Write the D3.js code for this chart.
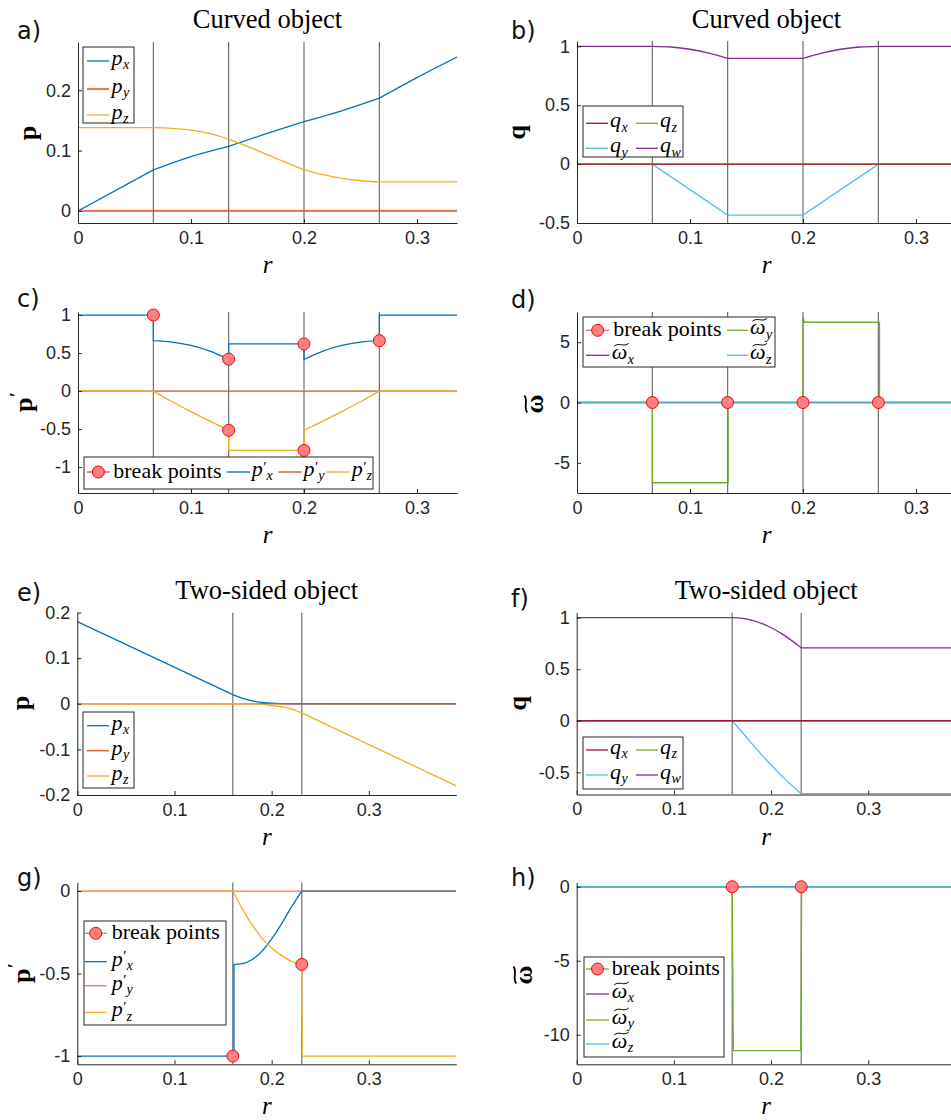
<!DOCTYPE html>
<html>
<head>
<meta charset="utf-8">
<script src="https://cdn.jsdelivr.net/npm/d3@7"></script>
<style>
body { margin: 0; background: #fff; }
svg { display: block; }
</style>
</head>
<body>
<script>
// ---- data ----
var xTicks = [0, 0.1, 0.2, 0.3];
var curvedRMax = 0.3354, twoSidedRMax = 0.39;
var curvedBreaks = [0.0667, 0.1333, 0.2, 0.2667];
var twoSidedBreaks = [0.16, 0.231];
var zeroCurvedR = [0, 0.3354], zeroTwoR = [0, 0.39], zeroV = [0, 0];

// a) curved object, position p
var rCurvedPx = [0, 0.0667, 0.1, 0.1333, 0.1667, 0.2, 0.2333, 0.2667, 0.3, 0.3354];
var curvedPx  = [0, 0.068, 0.090, 0.107, 0.128, 0.148, 0.166, 0.187, 0.221, 0.255];
var rCurvedPz = [0, 0.0667, 0.0833, 0.1, 0.1167, 0.1333, 0.15, 0.1667, 0.1833, 0.2, 0.2167, 0.2333, 0.25, 0.2667, 0.3354];
var curvedPz  = [0.138, 0.138, 0.137, 0.134, 0.128, 0.119, 0.107, 0.094, 0.081, 0.068, 0.060, 0.054, 0.050, 0.048, 0.048];

// b) curved object, quaternion q
var rCurvedQw = [0, 0.0667, 0.0833, 0.1, 0.1167, 0.1333, 0.2, 0.2167, 0.2333, 0.25, 0.2667, 0.3354];
var curvedQw  = [1, 1, 0.994, 0.975, 0.943, 0.898, 0.898, 0.943, 0.975, 0.994, 1, 1];
var rCurvedQy = [0, 0.0667, 0.1333, 0.2, 0.2667, 0.3354];
var curvedQy  = [0, 0, -0.433, -0.433, 0, 0];

// c) curved object, p'
var rCurvedDpx = [0, 0.0667, 0.0667, 0.0833, 0.1, 0.1167, 0.1333, 0.1333, 0.2, 0.2, 0.2167, 0.2333, 0.25, 0.2667, 0.2667, 0.3354];
var curvedDpx  = [1, 1, 0.663, 0.645, 0.600, 0.525, 0.420, 0.620, 0.620, 0.415, 0.525, 0.600, 0.645, 0.663, 1, 1];
var rCurvedDpz = [0, 0.0667, 0.0833, 0.1, 0.1167, 0.1333, 0.1333, 0.2, 0.2, 0.2167, 0.2333, 0.25, 0.2667, 0.3354];
var curvedDpz  = [0, 0, -0.14, -0.27, -0.395, -0.515, -0.78, -0.78, -0.515, -0.395, -0.27, -0.14, 0, 0];
var curvedDpBreakR = [0.0667, 0.1333, 0.2, 0.2667, 0.1333, 0.2];
var curvedDpBreakV = [1, 0.42, 0.62, 0.663, -0.515, -0.78];

// d) curved object, omega
var rCurvedWy = [0, 0.0667, 0.0667, 0.1338, 0.1338, 0.2, 0.2, 0.2012, 0.2677, 0.2677, 0.3354];
var curvedWy  = [0, 0, -6.65, -6.65, 0, 0, 7.1, 6.65, 6.65, 0, 0];
var curvedWBreakR = [0.0667, 0.1333, 0.2, 0.2667];
var curvedWBreakV = [0, 0, 0, 0];

// e) two-sided object, p
var rTwoP = [0, 0.16, 0.17, 0.18, 0.19, 0.2, 0.21, 0.22, 0.231, 0.39];
var twoPx = [0.18, 0.020, 0.012, 0.0065, 0.003, 0.0012, 0.0003, 0, 0, 0];
var twoPz = [0, 0, 0, -0.0003, -0.0012, -0.004, -0.0065, -0.011, -0.020, -0.18];

// f) two-sided object, q
var rTwoQ  = [0, 0.16, 0.1778, 0.1955, 0.2133, 0.231, 0.39];
var twoQw  = [1, 1, 0.981, 0.924, 0.831, 0.707, 0.707];
var twoQy  = [0, 0, -0.195, -0.383, -0.556, -0.707, -0.707];

// g) two-sided object, p'
var rTwoDpx = [0, 0.1612, 0.1612, 0.17, 0.18, 0.19, 0.2, 0.21, 0.22, 0.231, 0.39];
var twoDpx  = [-1, -1, -0.445, -0.44, -0.415, -0.365, -0.29, -0.2, -0.1, 0, 0];
var rTwoDpz = [0, 0.16, 0.17, 0.18, 0.19, 0.2, 0.21, 0.22, 0.231, 0.2315, 0.39];
var twoDpz  = [0, 0, -0.11, -0.205, -0.285, -0.345, -0.39, -0.425, -0.445, -1, -1];
var twoDpBreakR = [0.16, 0.231];
var twoDpBreakV = [-1, -0.445];

// h) two-sided object, omega
var rTwoWy = [0, 0.16, 0.1612, 0.2305, 0.2315, 0.39];
var twoWy  = [0, 0, -11.07, -11.07, 0, 0];
var twoWBreakR = [0.16, 0.231];
var twoWBreakV = [0, 0];

var ticksA = [0, 0.1, 0.2], ticksB = [-0.5, 0, 0.5, 1], ticksC = [-1, -0.5, 0, 0.5, 1], ticksD = [-5, 0, 5];
var ticksE = [-0.2, -0.1, 0, 0.1, 0.2], ticksF = [-0.5, 0, 0.5, 1], ticksG = [-1, -0.5, 0], ticksH = [-10, -5, 0];

// ---- styles ----
var serif = "'Liberation Serif', 'Times New Roman', serif";
var sans = "'Liberation Sans', Arial, sans-serif";
var labelFont = "'DejaVu Sans', sans-serif";
var blue = "#0072BD", orange = "#D95319", yellow = "#EDB120", purple = "#7E2F8E",
    green = "#77AC30", cyan = "#4DBEEE", darkRed = "#A2142F";

var svg = d3.select("body").append("svg").attr("width", 951).attr("height", 1120);

function isBreak(r, breaks) {
  return breaks.some(function(b) { return Math.abs(b - r) < 0.0016; });
}

// smooth pieces between break points, joined by straight segments (jumps)
function seriesPath(rs, vs, x, y, breaks) {
  var pts = rs.map(function(r, i) { return [r, vs[i]]; });
  var pieces = [[pts[0]]];
  for (var i = 1; i < pts.length; i++) {
    if (pts[i][0] === pts[i - 1][0]) { pieces.push([pts[i]]); continue; }
    pieces[pieces.length - 1].push(pts[i]);
    if (i < pts.length - 1 && pts[i + 1][0] !== pts[i][0] && isBreak(pts[i][0], breaks)) pieces.push([pts[i]]);
  }
  var line = d3.line().x(function(d) { return x(d[0]); }).y(function(d) { return y(d[1]); }).curve(d3.curveMonotoneX);
  return pieces.map(function(p, k) {
    var s = p.length > 1 ? line(p) : "M" + x(p[0][0]) + "," + y(p[0][1]);
    return k ? "L" + s.slice(1) : s;
  }).join("");
}

// base symbol with optional prime / subscript and tilde
function mathText(g, x, y, m, size, bold) {
  var t = g.append("text").attr("x", x).attr("y", y)
    .attr("font-family", serif).attr("font-size", size)
    .attr("font-style", bold ? "normal" : "italic")
    .attr("font-weight", bold ? "bold" : "normal");
  t.append("tspan").text(m.base);
  var w = t.node().getComputedTextLength();
  var subX = x + w + 0.5;
  if (m.prime) {
    t.append("tspan").attr("x", x + w + 0.5).attr("y", y - (bold ? 0.36 : 0.2) * size)
      .attr("font-size", (bold ? 0.72 : 0.68) * size).attr("font-style", "normal").text("′");
    subX = x + t.node().getComputedTextLength() + 0.5;
  }
  if (m.sub) {
    t.append("tspan").attr("x", subX).attr("y", y + 0.2 * size)
      .attr("font-size", 0.64 * size).attr("font-style", "italic").attr("font-weight", "normal").text(m.sub);
  }
  if (m.tilde) {
    var x0 = x + (bold ? 1 : 2.5), x1 = x + w + (bold ? -1 : 1.5), ty = y - 0.66 * size, dx = x1 - x0;
    g.append("path")
      .attr("d", "M" + x0 + "," + (ty + 1.4) + "C" + (x0 + dx * 0.35) + "," + (ty - 2.8) + " " +
        (x0 + dx * 0.65) + "," + (ty + 2.8) + " " + x1 + "," + (ty - 1.4))
      .attr("fill", "none").attr("stroke", "#000").attr("stroke-width", bold ? 1.8 : 1);
  }
}

function drawLegend(L) {
  var g = svg.append("g");
  g.append("rect").attr("x", L.x).attr("y", L.y).attr("width", L.w).attr("height", L.h)
    .attr("fill", "#fff").attr("stroke", "#262626").attr("stroke-width", 1);
  L.items.forEach(function(it) {
    var lx = L.x + it.dx, ly = L.y + it.dy, len = it.len || 22;
    g.append("line").attr("x1", lx).attr("x2", lx + len).attr("y1", ly).attr("y2", ly)
      .attr("stroke", it.color).attr("stroke-width", it.width || 1.3).attr("stroke-opacity", it.opacity || 1);
    if (it.marker) {
      g.append("circle").attr("cx", lx + len / 2).attr("cy", ly).attr("r", 6)
        .attr("fill", "#FF8080").attr("stroke", "#FF0000").attr("stroke-width", 1);
    }
    var tx = L.x + it.tx;
    if (it.text) {
      g.append("text").attr("x", tx).attr("y", ly + 6).attr("font-family", serif)
        .attr("font-size", 22).text(it.text);
    } else {
      mathText(g, tx, ly + 4, it.math, 22, false);
    }
  });
}

function drawPanel(p) {
  var g = svg.append("g");
  var x = d3.scaleLinear().domain([0, p.xMax]).range([p.left, p.left + 379]);
  var y = d3.scaleLinear().domain(p.yDomain).range([p.top + p.height, p.top]);

  svg.append("clipPath").attr("id", "clip-" + p.id).append("rect")
    .attr("x", p.left).attr("y", p.top).attr("width", 379).attr("height", p.height);
  var plot = g.append("g").attr("clip-path", "url(#clip-" + p.id + ")");

  plot.selectAll("line.brk").data(p.breaks).enter().append("line").attr("class", "brk")
    .attr("x1", function(d) { return x(d); }).attr("x2", function(d) { return x(d); })
    .attr("y1", p.top).attr("y2", p.top + p.height)
    .attr("stroke", "#707070").attr("stroke-width", 1.2);

  p.series.forEach(function(s) {
    plot.append("path").attr("d", seriesPath(s.r, s.v, x, y, p.breaks))
      .attr("fill", "none").attr("stroke", s.color)
      .attr("stroke-width", s.width || 1.3).attr("stroke-opacity", s.opacity || 1);
  });

  var ax = g.append("g").attr("transform", "translate(0," + (p.top + p.height) + ")")
    .call(d3.axisBottom(x).tickValues(xTicks).tickFormat(function(d) { return String(d); })
      .tickSizeInner(-4).tickSizeOuter(0).tickPadding(8));
  var ay = g.append("g").attr("transform", "translate(" + p.left + ",0)")
    .call(d3.axisLeft(y).tickValues(p.yTicks).tickFormat(function(d) { return String(d); })
      .tickSizeInner(-4).tickSizeOuter(0).tickPadding(7));
  [ax, ay].forEach(function(a) {
    a.attr("font-family", sans).attr("font-size", 18);
    a.select(".domain").attr("stroke", "#262626");
    a.selectAll(".tick line").attr("stroke", "#262626");
    a.selectAll("text").attr("fill", "#262626");
  });

  if (p.markers) {
    g.selectAll("circle.bp").data(p.markers.r).enter().append("circle").attr("class", "bp")
      .attr("cx", function(d) { return x(d); })
      .attr("cy", function(d, i) { return y(p.markers.v[i]); })
      .attr("r", 6).attr("fill", "#FF8080").attr("stroke", "#FF0000").attr("stroke-width", 1);
  }

  var cx = p.left + 379 / 2;
  if (p.title) {
    g.append("text").attr("x", cx).attr("y", p.titleY).attr("text-anchor", "middle")
      .attr("font-family", serif).attr("font-size", 26.5).text(p.title);
  }
  g.append("text").attr("x", p.tag[0]).attr("y", p.tag[1]).attr("font-family", labelFont)
    .attr("font-size", 24).attr("fill", "#111").text(p.id + ")");
  g.append("text").attr("x", cx).attr("y", p.top + p.height + 50).attr("text-anchor", "middle")
    .attr("font-family", serif).attr("font-style", "italic").attr("font-size", 25).text("r");

  // rotated y label
  var yl = g.append("g");
  var inner = yl.append("g");
  mathText(inner, 0, 0, p.ylab, 26, true);
  var bb = inner.node().getBBox();
  inner.attr("transform", "translate(" + (-bb.x - bb.width / 2) + ",0)");
  yl.attr("transform", "translate(" + p.ylabPos[0] + "," + p.ylabPos[1] + ") rotate(-90)");

  drawLegend(p.legend);
}

var mp = function(b, s) { return { base: b, sub: s }; };
var mpp = function(b, s) { return { base: b, sub: s, prime: true }; };
var mw = function(s) { return { base: "ω", sub: s, tilde: true }; };

var panels = [
  { id: "a", left: 78, top: 42, height: 181, xMax: curvedRMax, yDomain: [-0.02, 0.28], yTicks: ticksA,
    breaks: curvedBreaks, title: "Curved object", titleY: 28, tag: [17, 39],
    ylab: { base: "p" }, ylabPos: [36, 133],
    series: [
      { r: rCurvedPx, v: curvedPx, color: blue },
      { r: zeroCurvedR, v: zeroV, color: orange, width: 2.2, opacity: 0.75 },
      { r: rCurvedPz, v: curvedPz, color: yellow }
    ],
    legend: { x: 83, y: 47, w: 51, h: 76, items: [
      { dx: 4, dy: 14, tx: 28.5, color: blue, math: mp("p", "x") },
      { dx: 4, dy: 42, tx: 28.5, color: orange, width: 2.2, opacity: 0.75, math: mp("p", "y") },
      { dx: 4, dy: 68, tx: 28.5, color: yellow, math: mp("p", "z") }
    ] } },
  { id: "b", left: 577, top: 41, height: 182, xMax: curvedRMax, yDomain: [-0.5, 1.045], yTicks: ticksB,
    breaks: curvedBreaks, title: "Curved object", titleY: 28, tag: [511, 39],
    ylab: { base: "q" }, ylabPos: [525, 132],
    series: [
      { r: rCurvedQy, v: curvedQy, color: cyan },
      { r: zeroCurvedR, v: zeroV, color: green },
      { r: zeroCurvedR, v: zeroV, color: darkRed },
      { r: rCurvedQw, v: curvedQw, color: purple }
    ],
    legend: { x: 583, y: 106, w: 100, h: 51, items: [
      { dx: 3, dy: 17.3, tx: 27, color: darkRed, math: mp("q", "x") },
      { dx: 3, dy: 42.3, tx: 27, color: cyan, math: mp("q", "y") },
      { dx: 53, dy: 17.3, tx: 77, color: green, math: mp("q", "z") },
      { dx: 53, dy: 42.3, tx: 77, color: purple, math: mp("q", "w") }
    ] } },
  { id: "c", left: 78, top: 312, height: 181, xMax: curvedRMax, yDomain: [-1.34, 1.04], yTicks: ticksC,
    breaks: curvedBreaks, tag: [17, 307],
    ylab: { base: "p", prime: true }, ylabPos: [32, 402],
    series: [
      { r: rCurvedDpx, v: curvedDpx, color: blue },
      { r: zeroCurvedR, v: zeroV, color: orange },
      { r: rCurvedDpz, v: curvedDpz, color: yellow }
    ],
    markers: { r: curvedDpBreakR, v: curvedDpBreakV },
    legend: { x: 84, y: 457, w: 289, h: 32, items: [
      { dx: 3, dy: 15, len: 22.6, tx: 29.3, color: "#E0393E", marker: true, text: "break points" },
      { dx: 142.7, dy: 15, len: 23.3, tx: 167.7, color: blue, math: mpp("p", "x") },
      { dx: 194.3, dy: 15, len: 23.4, tx: 219.4, color: orange, math: mpp("p", "y") },
      { dx: 242.7, dy: 15, len: 23.3, tx: 267.7, color: yellow, math: mpp("p", "z") }
    ] } },
  { id: "d", left: 577, top: 312, height: 181, xMax: curvedRMax, yDomain: [-7.5, 7.5], yTicks: ticksD,
    breaks: curvedBreaks, tag: [511, 308],
    ylab: { base: "ω", tilde: true }, ylabPos: [543, 404],
    series: [
      { r: zeroCurvedR, v: zeroV, color: purple },
      { r: rCurvedWy, v: curvedWy, color: green },
      { r: zeroCurvedR, v: zeroV, color: cyan, opacity: 0.8 }
    ],
    markers: { r: curvedWBreakR, v: curvedWBreakV },
    legend: { x: 583, y: 317, w: 192, h: 50, items: [
      { dx: 3, dy: 13.3, len: 23.3, tx: 30.3, color: "#D46A80", marker: true, text: "break points" },
      { dx: 144, dy: 13.3, len: 21, tx: 167, color: green, math: mw("y") },
      { dx: 3, dy: 38.3, len: 23.3, tx: 28.7, color: purple, math: mw("x") },
      { dx: 144, dy: 38.3, len: 21, tx: 167, color: cyan, math: mw("z") }
    ] } },
  { id: "e", left: 77.3, top: 612.5, height: 182.5, xMax: twoSidedRMax, yDomain: [-0.2, 0.2], yTicks: ticksE,
    breaks: twoSidedBreaks, title: "Two-sided object", titleY: 598.5, tag: [17, 601],
    ylab: { base: "p" }, ylabPos: [29, 703],
    series: [
      { r: rTwoP, v: twoPx, color: blue },
      { r: zeroTwoR, v: zeroV, color: orange },
      { r: rTwoP, v: twoPz, color: yellow }
    ],
    legend: { x: 83, y: 712, w: 51, h: 76, items: [
      { dx: 4, dy: 13.7, tx: 28.5, color: blue, math: mp("p", "x") },
      { dx: 4, dy: 38.7, tx: 28.5, color: orange, math: mp("p", "y") },
      { dx: 4, dy: 64, tx: 28.5, color: yellow, math: mp("p", "z") }
    ] } },
  { id: "f", left: 576.7, top: 612.5, height: 182, xMax: twoSidedRMax, yDomain: [-0.715, 1.05], yTicks: ticksF,
    breaks: twoSidedBreaks, title: "Two-sided object", titleY: 598.5, tag: [511, 607],
    ylab: { base: "q" }, ylabPos: [526, 703],
    series: [
      { r: rTwoQ, v: twoQy, color: cyan },
      { r: zeroTwoR, v: zeroV, color: green },
      { r: zeroTwoR, v: zeroV, color: darkRed },
      { r: rTwoQ, v: twoQw, color: purple }
    ],
    legend: { x: 583, y: 737, w: 100, h: 52, items: [
      { dx: 3, dy: 13, tx: 27, color: darkRed, math: mp("q", "x") },
      { dx: 3, dy: 38, tx: 27, color: cyan, math: mp("q", "y") },
      { dx: 53, dy: 13, tx: 77, color: green, math: mp("q", "z") },
      { dx: 53, dy: 38, tx: 77, color: purple, math: mp("q", "w") }
    ] } },
  { id: "g", left: 77.3, top: 882.3, height: 182, xMax: twoSidedRMax, yDomain: [-1.05, 0.053], yTicks: ticksG,
    breaks: twoSidedBreaks, tag: [17, 886],
    ylab: { base: "p", prime: true }, ylabPos: [30, 973],
    series: [
      { r: rTwoDpx, v: twoDpx, color: blue },
      { r: zeroTwoR, v: zeroV, color: orange, opacity: 0.75 },
      { r: rTwoDpz, v: twoDpz, color: yellow }
    ],
    markers: { r: twoDpBreakR, v: twoDpBreakV },
    legend: { x: 84, y: 921, w: 142, h: 104, items: [
      { dx: 0.7, dy: 12.3, len: 22, tx: 27.7, color: green, marker: true, text: "break points" },
      { dx: 0.7, dy: 40.7, len: 22, tx: 27.7, color: blue, math: mpp("p", "x") },
      { dx: 0.7, dy: 64.7, len: 22, tx: 27.7, color: orange, opacity: 0.75, math: mpp("p", "y") },
      { dx: 0.7, dy: 91.3, len: 22, tx: 27.7, color: yellow, math: mpp("p", "z") }
    ] } },
  { id: "h", left: 576.7, top: 882.3, height: 182, xMax: twoSidedRMax, yDomain: [-12, 0.3], yTicks: ticksH,
    breaks: twoSidedBreaks, tag: [511, 886],
    ylab: { base: "ω", tilde: true }, ylabPos: [532, 975],
    series: [
      { r: zeroTwoR, v: zeroV, color: purple },
      { r: rTwoWy, v: twoWy, color: green },
      { r: zeroTwoR, v: zeroV, color: cyan, opacity: 0.8 }
    ],
    markers: { r: twoWBreakR, v: twoWBreakV },
    legend: { x: 584, y: 957, w: 140, h: 100, items: [
      { dx: 2, dy: 12, len: 23, tx: 27.7, color: green, marker: true, text: "break points" },
      { dx: 2, dy: 37, len: 23, tx: 27.7, color: purple, math: mw("x") },
      { dx: 2, dy: 63, len: 23, tx: 27.7, color: green, math: mw("y") },
      { dx: 2, dy: 87, len: 23, tx: 27.7, color: cyan, math: mw("z") }
    ] } }
];

panels.forEach(drawPanel);
</script>
</body>
</html>
